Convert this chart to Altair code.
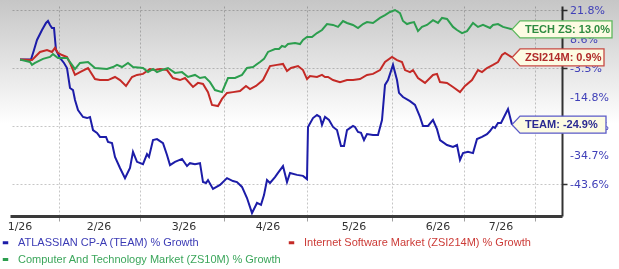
import altair as alt
import pandas as pd

# ---------------- data ----------------
series_names = [
    "ATLASSIAN CP-A (TEAM) % Growth",
    "Internet Software Market (ZSI214M) % Growth",
    "Computer And Technology Market (ZS10M) % Growth",
]
tag_labels = ["TEAM: -24.9%", "ZSI214M: 0.9%", "TECH ZS: 13.0%"]

team_day = [0, 2.75, 3.5, 4.25, 5.5, 6.5, 7, 7.5, 8, 8.5,
            9, 10, 11, 11.75, 12.5, 13.25, 13.75, 14.5, 15.75, 16.75,
            17.5, 18.25, 19.25, 20, 21.5, 22, 23, 23.75, 25, 26.25,
            27.5, 28.25, 29.25, 30.75, 31.75, 32.25, 33.25, 34.25, 35.75, 36.75,
            37.5, 38.75, 40.5, 41.75, 42.5, 43.75, 45, 45.75, 46.5, 47,
            48.25, 50, 51.75, 53.25, 54.25, 55.5, 56.75, 58, 59.25, 60.25,
            61, 61.75, 62.5, 63.75, 64.5, 65.75, 66.75, 67.5, 69.25, 70.75,
            71.75, 72, 73.25, 74.25, 75, 75.5, 76.25, 77.25, 78.25, 79.25,
            80.25, 81, 81.75, 83.25, 83.75, 84.5, 85.25, 86, 86.75, 88.25,
            89.5, 90.5, 91.25, 92, 93.25, 94.25, 94.75, 95.75, 97.5, 98.75,
            100, 100.75, 102, 103.25, 104.25, 105, 106.75, 108.25, 109.25, 110,
            110.75, 112, 113.25, 114.25, 115.5, 116.75, 117.5, 118.25, 118.75, 119.5,
            120.25, 121, 122, 123]
team_pct = [0, 0, 4.0, 8.2, 12.7, 15.9, 16.8, 15.0, 13.6, 13.6,
            4.0, 0.7, -1.4, -3.5, -11.3, -12.1, -15.9, -19.6, -22.1, -22.5,
            -22.1, -26.7, -27.6, -28.9, -28.9, -30.5, -30.9, -35.3, -38.7, -41.8,
            -38.7, -33.7, -36.8, -37.5, -34.4, -35.3, -29.9, -29.6, -30.9, -34.7,
            -37.8, -36.8, -35.9, -38.1, -37.2, -37.5, -37.2, -43.0, -43.3, -42.4,
            -45.1, -43.9, -41.8, -42.7, -43.0, -44.5, -47.9, -52.5, -49.4, -50.0,
            -47.0, -42.4, -43.3, -41.5, -40.2, -38.1, -43.0, -40.2, -40.8, -41.1,
            -42.1, -25.7, -22.5, -21.4, -22.1, -25.0, -22.1, -23.2, -25.7, -26.7,
            -31.8, -31.8, -26.7, -25.4, -25.7, -27.3, -27.6, -29.9, -28.0, -28.3,
            -28.3, -23.2, -10.1, -8.2, -2.2, -8.2, -13.2, -14.8, -16.3, -17.7,
            -22.1, -25.4, -25.4, -23.2, -26.4, -29.9, -31.5, -32.1, -31.5, -36.2,
            -34.1, -33.7, -34.1, -29.6, -28.9, -28.0, -27.0, -25.7, -26.0, -24.3,
            -24.3, -22.1, -19.2, -24.9]

zsi_day = [0, 3, 3.75, 5, 6.75, 8, 8.75, 9.5, 10.5, 11.75,
           12.5, 13.75, 15, 17, 18.75, 20, 22, 23.75, 25, 26.5,
           28, 29.25, 30.75, 32.5, 33.75, 35, 36.75, 38.25, 40, 41.25,
           43.25, 44.5, 45.75, 47, 48, 49.5, 50.5, 51.75, 53.25, 55,
           56.5, 57.5, 59, 60.75, 62.5, 64.25, 65.75, 66.75, 67.75, 69.5,
           70.75, 71.75, 72.5, 74.25, 75.5, 76.25, 77, 78.25, 80, 81.75,
           83.25, 85, 86.75, 88.25, 90, 91.25, 93, 94.25, 95.5, 96.25,
           97.5, 98.25, 99.5, 101.25, 103.25, 104.25, 105, 106.75, 108.25, 110,
           111.25, 113, 113.75, 114.5, 115.5, 116.75, 118.25, 119.5, 120.5, 121.25,
           123]
zsi_pct = [0, -0.2, 1.1, 3.2, 4.0, 3.2, 4.9, 2.8, 1.9, 1.1,
           -1.4, -6.2, -5.1, -3.5, -7.8, -8.2, -8.2, -7.0, -8.2, -10.5,
           -7.0, -6.2, -5.8, -3.9, -4.3, -3.9, -4.3, -7.4, -8.2, -7.4,
           -10.9, -9.3, -9.7, -12.9, -17.7, -18.1, -15.5, -13.2, -12.9, -12.5,
           -10.5, -11.7, -10.5, -8.2, -2.7, -2.2, -1.8, -4.7, -3.5, -2.7,
           -4.3, -7.8, -6.6, -7.0, -6.2, -7.0, -7.0, -8.2, -9.0, -8.2,
           -8.2, -7.8, -6.2, -5.8, -4.3, -1.0, 1.1, -0.2, -1.0, -4.3,
           -5.1, -4.3, -7.4, -9.3, -6.2, -5.8, -9.0, -9.3, -10.9, -12.9,
           -10.5, -8.2, -6.2, -4.3, -5.1, -3.5, -2.2, -1.0, 1.9, 2.8,
           0.9]

zs_day = [0, 2.5, 3, 3.75, 5.75, 7.5, 8.25, 9.5, 11.75, 13,
          13.75, 15, 17, 18.75, 21.75, 23.25, 24.25, 25.5, 27, 28.25,
          30.75, 32, 33.25, 34.25, 35.5, 37, 38.75, 40.5, 42, 43.75,
          45, 46.25, 47.5, 48.75, 50.5, 52, 53.75, 55.5, 56.75, 58.25,
          60, 61, 62, 63.75, 64.75, 65.5, 66.25, 67, 68.75, 70,
          70.75, 71.75, 73, 74.25, 75.5, 76.75, 78.25, 79.5, 80.75, 81.75,
          83.25, 84.5, 85.75, 86.75, 88.25, 90, 91.25, 92.5, 93.75, 95,
          95.75, 96.75, 97.5, 98.5, 99.5, 100.5, 101.75, 103.25, 104.5, 105.5,
          106.75, 108.25, 109.25, 110.5, 111.75, 113.25, 114.5, 115.75, 117.5, 118.25,
          119.5, 120.75, 123]
zs_pct = [0, -1.0, -2.2, -1.4, 0.3, 1.1, 2.3, 0.7, 0.7, -2.2,
          -3.9, -1.4, -1.0, -3.5, -3.9, -3.1, -2.2, -3.1, -1.4, -3.1,
          -3.5, -5.1, -3.9, -5.1, -4.3, -3.5, -5.4, -5.1, -7.0, -6.2,
          -7.4, -7.0, -9.0, -12.1, -12.9, -7.4, -7.4, -6.2, -3.5, -3.1,
          -1.0, 0.3, 3.2, 4.4, 4.4, 5.7, 5.3, 6.5, 6.9, 6.5,
          8.2, 9.5, 9.5, 11.3, 12.7, 15.4, 15.0, 14.1, 16.8, 15.9,
          15.0, 13.6, 15.4, 16.3, 15.9, 18.2, 19.5, 20.9, 21.8, 20.4,
          16.8, 15.4, 15.9, 16.3, 12.2, 14.1, 15.0, 17.2, 15.9, 18.2,
          17.7, 14.1, 12.7, 11.3, 12.2, 15.9, 14.1, 15.0, 13.6, 15.0,
          15.4, 14.1, 13.0]

month_labels = ["1/26", "2/26", "3/26", "4/26", "5/26", "6/26", "7/26"]
month_label_day = [0, 19.75, 41, 62, 83.5, 104.5, 120.25]
grid_days = [9.75, 30, 51, 71.75, 93, 111, 128.75]
y_tick_values = [21.8, 8.6, -3.5, -14.8, -25.4, -34.7, -43.6]
y_tick_labels = ["21.8%", "8.6%", "-3.5%", "-14.8%", "-25.4%", "-34.7%", "-43.6%"]

# ---------------- styles / scales ----------------
W, H = 552, 210
line_colors = ["#1c1ca8", "#c42a26", "#2c9e4e"]
legend_text_colors = ["#3b3bb5", "#cc3b37", "#3ba65b"]
tag_border = ["#5a5ac8", "#c84a44", "#5cb85c"]
tag_text = ["#2a2a92", "#b02a2a", "#2e8b40"]
tag_width = [94, 92, 100]
tag_fill = "#fcfbe3"

# piecewise-linear value axis (evenly spaced ticks, as in the original)
y_domain = [-53.4, -43.6, -34.7, -25.4, -14.8, -3.5, 8.6, 21.8, 23.6]
y_range = [210, 178, 149, 120, 91, 62, 33, 4, 0]
x_scale = alt.Scale(domain=[-2.5, 135.5], nice=False, zero=False)
y_scale = alt.Scale(domain=y_domain, range=y_range, nice=False, zero=False)

frames = []
for name, d, p in zip(series_names, [team_day, zsi_day, zs_day], [team_pct, zsi_pct, zs_pct]):
    frames.append(pd.DataFrame({"series": name, "day": d, "pct": p}))
lines_df = pd.concat(frames, ignore_index=True)

bg = alt.Chart(pd.DataFrame({"k": [0]})).mark_rect(
    color=alt.LinearGradient(
        gradient="linear",
        stops=[alt.GradientStop(color="#c6c6c6", offset=0),
               alt.GradientStop(color="#ffffff", offset=1)],
        x1=0, x2=0, y1=0, y2=1),
    blend="multiply",
).encode(x=alt.value(-10), x2=alt.value(W + 57), y=alt.value(-6), y2=alt.value(118))

label_color_expr = (
    "datum.label == '%s' ? '%s' : (datum.label == '%s' ? '%s' : '%s')"
    % (series_names[0], legend_text_colors[0], series_names[1],
       legend_text_colors[1], legend_text_colors[2])
)

lines = alt.Chart(lines_df).mark_line(strokeWidth=2).encode(
    x=alt.X("day:Q", scale=x_scale,
            axis=alt.Axis(values=grid_days, labels=False, title=None,
                          grid=True, gridDash=[2, 2], gridColor="#c6c6c6",
                          tickColor="#a0a0a0", tickSize=5,
                          domainColor="#3a3a3a", domainWidth=3)),
    y=alt.Y("pct:Q", scale=y_scale,
            axis=alt.Axis(orient="right", values=y_tick_values, title=None,
                          labels=False,
                          tickColor="#333333", tickSize=5, tickWidth=1.5,
                          domainColor="#333333", domainWidth=2,
                          grid=True, gridDash=[2, 2], gridColor="#c6c6c6")),
    color=alt.Color("series:N",
                    scale=alt.Scale(domain=series_names, range=line_colors),
                    legend=alt.Legend(title=None, orient="none", legendX=-10, legendY=231,
                                      direction="horizontal", columns=2,
                                      symbolType="stroke", symbolSize=30, symbolStrokeWidth=3,
                                      labelFont="Liberation Sans", labelFontSize=11,
                                      labelLimit=400, columnPadding=0, rowPadding=4,
                                      labelOffset=7,
                                      labelColor={"expr": label_color_expr})),
    order="day:Q",
)

# right-hand value labels (drawn before the tags so the tags cover them)
ylabels = alt.Chart(pd.DataFrame({"pct": y_tick_values, "lab": y_tick_labels})).mark_text(
    align="left", baseline="middle", font="DejaVu Sans", fontSize=11, color="#4040b8",
    dy=0.5).encode(x=alt.value(W + 8), y="pct:Q", text="lab:N")

layers = [bg, lines, ylabels]
for i, (d, p) in enumerate([(team_day, team_pct), (zsi_day, zsi_pct), (zs_day, zs_pct)]):
    last = pd.DataFrame({"day": [d[-1]], "pct": [p[-1]], "label": [tag_labels[i]]})
    w = tag_width[i]
    path = "M0,0 L8,-8.5 L%d,-8.5 L%d,8.5 L8,8.5 Z" % (w, w)
    tag = alt.Chart(last).mark_point(shape=path, size=4, filled=True, fill=tag_fill,
                                     stroke=tag_border[i], strokeWidth=1.3, opacity=1).encode(
        x="day:Q", y="pct:Q")
    txt = alt.Chart(last).mark_text(align="left", baseline="middle", dx=13, dy=0.5,
                                    font="Liberation Sans", fontSize=11, fontWeight="bold",
                                    color=tag_text[i]).encode(
        x="day:Q", y="pct:Q", text="label:N")
    layers += [tag, txt]

months = alt.Chart(pd.DataFrame({"day": month_label_day, "month": month_labels})).mark_text(
    font="DejaVu Sans", fontSize=11, color="#333333", baseline="middle").encode(
    x="day:Q", y=alt.value(221), text="month:N")
layers.append(months)

chart = alt.layer(*layers).properties(
    width=W, height=H,
    padding={"left": 10, "top": 6, "right": 57, "bottom": 53},
    autosize=alt.AutoSizeParams(type="none"),
    background="white",
).configure_view(stroke=None)

chart.save("out.html", embed_options={"renderer": "svg", "actions": False})
